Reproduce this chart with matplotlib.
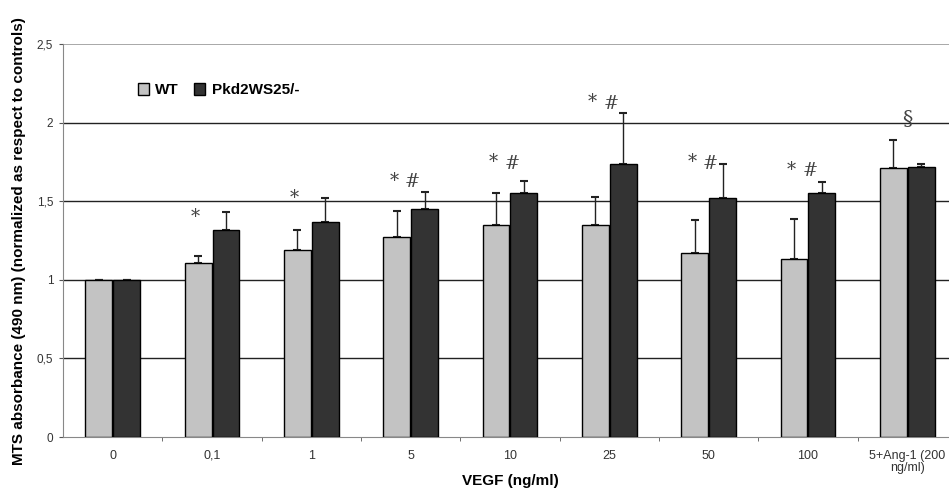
import matplotlib
matplotlib.use("Agg")
import matplotlib.pyplot as plt
import numpy as np

plt.rcParams['font.family'] = ['Liberation Sans', 'DejaVu Sans']

categories = ["0", "0,1", "1", "5", "10", "25", "50", "100", "5+Ang-1 (200\nng/ml)"]
wt_values = [1.00, 1.11, 1.19, 1.27, 1.35, 1.35, 1.17, 1.13, 1.71]
wt_err = [0.00, 0.04, 0.13, 0.17, 0.20, 0.18, 0.21, 0.26, 0.18]
pkd_values = [1.00, 1.32, 1.37, 1.45, 1.55, 1.74, 1.52, 1.55, 1.72]
pkd_err = [0.00, 0.11, 0.15, 0.11, 0.08, 0.32, 0.22, 0.07, 0.02]
star_labels = ["", "*", "*", "*", "*", "*", "*", "*", ""]
hash_labels = ["", "", "", "#", "#", "#", "#", "#", "§"]
mark_y = [0, 1.40, 1.52, 1.63, 1.75, 2.13, 1.75, 1.70, 2.05]
yticks = [0, 0.5, 1, 1.5, 2, 2.5]
ytick_labels = ["0", "0,5", "1", "1,5", "2", "2,5"]

fig = plt.figure(figsize=(9.49, 4.90), dpi=100)
ax = fig.add_axes([0.0664, 0.108, 0.942, 0.802])

x = np.arange(len(categories))
w = 0.27
ax.bar(x - w / 2 - 0.005, wt_values, w, color="#c3c3c3", edgecolor="black",
       linewidth=1.0, label="WT", zorder=3)
ax.bar(x + w / 2 + 0.005, pkd_values, w, color="#333333", edgecolor="black",
       linewidth=1.0, label="Pkd2WS25/-", zorder=3)
ax.errorbar(x - w / 2 - 0.005, wt_values, yerr=[np.zeros(len(x)), wt_err],
            fmt="none", ecolor="#222222", elinewidth=1.0, capsize=3, capthick=1.5, zorder=2)
ax.errorbar(x + w / 2 + 0.005, pkd_values, yerr=[np.zeros(len(x)), pkd_err],
            fmt="none", ecolor="#222222", elinewidth=1.0, capsize=3, capthick=1.5, zorder=2)

for i in range(len(x)):
    if star_labels[i]:
        ax.text(x[i] - 0.17, mark_y[i], star_labels[i], ha="center", va="center",
                fontsize=13, family="DejaVu Serif", color="#444444")
    if hash_labels[i]:
        if hash_labels[i] == "§":
            ax.text(x[i], mark_y[i] - 0.03, hash_labels[i], ha="center", va="center",
                    fontsize=15, family="DejaVu Serif", color="#444444")
        else:
            ax.text(x[i] + 0.02, mark_y[i] - 0.01, hash_labels[i], ha="center", va="center",
                    fontsize=13, family="DejaVu Serif", color="#444444")

ax.set_xlim(-0.5, len(categories) - 0.5)
ax.set_ylim(0, 2.5)
ax.set_yticks(yticks)
ax.set_yticklabels(ytick_labels, fontsize=8.5, color="#333333")
for yv in yticks[1:-1]:
    ax.axhline(yv, color="#222222", linewidth=1.0, zorder=1)
ax.axhline(2.5, color="#999999", linewidth=1.2, zorder=1)

ax.set_xticks(x)
ax.set_xticklabels(categories, fontsize=9, color="#333333", linespacing=1.1)
ax.set_xticks(np.arange(len(categories) - 1) + 0.5, minor=True)
ax.tick_params(axis="x", which="major", length=0, pad=9)
ax.tick_params(axis="x", which="minor", length=3, color="#555555", direction="out")
ax.tick_params(axis="y", length=3, color="#555555", pad=4)

for s in ["top", "right"]:
    ax.spines[s].set_visible(False)
ax.spines["left"].set_color("#888888")
ax.spines["bottom"].set_color("#888888")

ax.set_xlabel("VEGF (ng/ml)", fontsize=11, fontweight="bold", labelpad=0)
ax.set_ylabel("MTS absorbance (490 nm) (normalized as respect to controls)",
              fontsize=11, fontweight="bold", labelpad=8)

leg = ax.legend(loc="upper left", bbox_to_anchor=(0.068, 0.935), ncol=2, frameon=False,
                handlelength=0.75, handleheight=0.75, handletextpad=0.4,
                columnspacing=1.0, prop={"weight": "bold", "size": 11})

fig.savefig("out.png", dpi=100)
